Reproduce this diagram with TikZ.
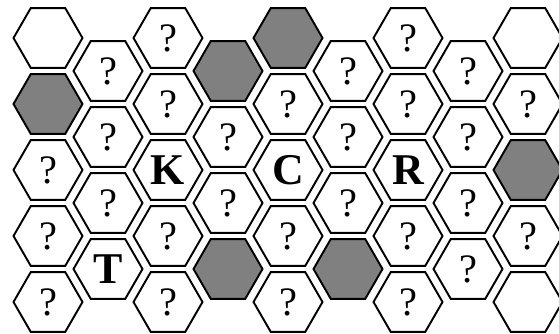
\documentclass[tikz,border=0pt]{standalone}
\usepackage{fontspec}
\setmainfont{Liberation Serif}
\usetikzlibrary{shapes.geometric}

\begin{document}
\begin{tikzpicture}[
  hex/.style={draw, regular polygon, regular polygon sides=6,
              minimum size=1.38cm, inner sep=0pt, line width=1.1pt,
              font=\fontsize{23}{23}\selectfont},
  wall/.style={hex, fill=black!50},
  unk/.style={hex},
  tag/.style={hex, font=\fontsize{25}{25}\selectfont\bfseries}
]
\useasboundingbox (0,0) rectangle (11.18,6.68);

% column 0
\node[hex]  (c0r0) at (0.96,5.92) {};
\node[wall] (c0r1) at (0.96,4.60) {};
\node[unk]  (c0r2) at (0.96,3.28) {?};
\node[unk]  (c0r3) at (0.96,1.96) {?};
\node[unk]  (c0r4) at (0.96,0.64) {?};

% column 1
\node[unk]  (c1r0) at (2.16,5.26) {?};
\node[unk]  (c1r1) at (2.16,3.94) {?};
\node[unk]  (c1r2) at (2.16,2.62) {?};
\node[tag]  (c1r3) at (2.16,1.30) {T};

% column 2
\node[unk]  (c2r0) at (3.36,5.92) {?};
\node[unk]  (c2r1) at (3.36,4.60) {?};
\node[tag]  (c2r2) at (3.36,3.28) {K};
\node[unk]  (c2r3) at (3.36,1.96) {?};
\node[unk]  (c2r4) at (3.36,0.64) {?};

% column 3
\node[wall] (c3r0) at (4.56,5.26) {};
\node[unk]  (c3r1) at (4.56,3.94) {?};
\node[unk]  (c3r2) at (4.56,2.62) {?};
\node[wall] (c3r3) at (4.56,1.30) {};

% column 4
\node[wall] (c4r0) at (5.76,5.92) {};
\node[unk]  (c4r1) at (5.76,4.60) {?};
\node[tag]  (c4r2) at (5.76,3.28) {C};
\node[unk]  (c4r3) at (5.76,1.96) {?};
\node[unk]  (c4r4) at (5.76,0.64) {?};

% column 5
\node[unk]  (c5r0) at (6.96,5.26) {?};
\node[unk]  (c5r1) at (6.96,3.94) {?};
\node[unk]  (c5r2) at (6.96,2.62) {?};
\node[wall] (c5r3) at (6.96,1.30) {};

% column 6
\node[unk]  (c6r0) at (8.16,5.92) {?};
\node[unk]  (c6r1) at (8.16,4.60) {?};
\node[tag]  (c6r2) at (8.16,3.28) {R};
\node[unk]  (c6r3) at (8.16,1.96) {?};
\node[unk]  (c6r4) at (8.16,0.64) {?};

% column 7
\node[unk]  (c7r0) at (9.36,5.26) {?};
\node[unk]  (c7r1) at (9.36,3.94) {?};
\node[unk]  (c7r2) at (9.36,2.62) {?};
\node[unk]  (c7r3) at (9.36,1.30) {?};

% column 8
\node[hex]  (c8r0) at (10.56,5.92) {};
\node[unk]  (c8r1) at (10.56,4.60) {?};
\node[wall] (c8r2) at (10.56,3.28) {};
\node[unk]  (c8r3) at (10.56,1.96) {?};
\node[hex]  (c8r4) at (10.56,0.64) {};

\end{tikzpicture}
\end{document}
